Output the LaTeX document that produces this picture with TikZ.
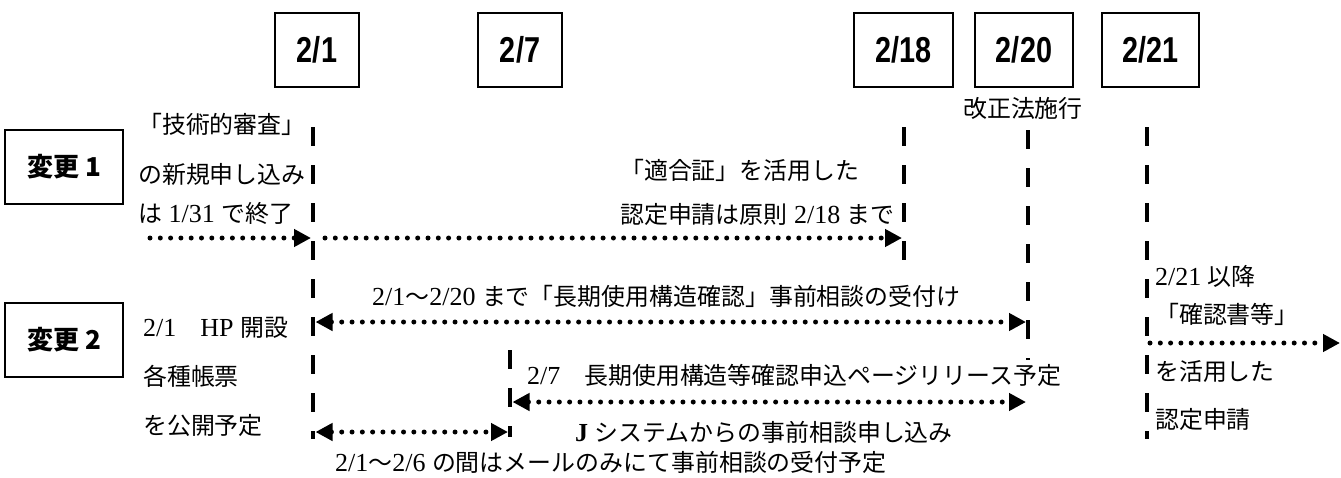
\documentclass[tikz,border=0pt]{standalone}
\usepackage{fontspec}
\setmainfont{Liberation Serif}
\newfontfamily\jpf[Scale=0.92]{Noto Sans CJK JP}
\newfontfamily\jpb{Noto Sans CJK JP}
\newfontfamily\datef[FakeStretch=0.8]{Liberation Sans}
\usetikzlibrary{arrows.meta}
\begin{document}
\begin{tikzpicture}[x=1pt,y=-1pt,
  datebox/.style={draw, line width=1.6pt, minimum height=74pt, inner sep=0pt, font=\datef\bfseries\fontsize{36}{40}\selectfont},
  chbox/.style={draw, line width=1.6pt, minimum width=118pt, minimum height=74pt, inner sep=0pt, font=\jpb\bfseries\fontsize{26}{30}\selectfont},
  txt/.style={anchor=west, inner sep=0pt, font=\fontsize{26}{30}\selectfont},
  vline/.style={line width=4.5pt, dash pattern=on 19pt off 19pt},
  dots/.style={line width=5pt, line cap=round, dash pattern=on 0pt off 10.3pt},
  tipR/.style={-{Triangle[length=17pt,width=17pt]}},
  tipB/.style={{Triangle[length=17pt,width=17pt]}-{Triangle[length=17pt,width=17pt]}}
]
\useasboundingbox (0,0) rectangle (1341,477);

% date boxes
\node[datebox, minimum width=84pt] (d1) at (317,50) {2/1};
\node[datebox, minimum width=84pt] (d7) at (520,50) {2/7};
\node[datebox, minimum width=99pt] (d18) at (903.5,50) {2/18};
\node[datebox, minimum width=98pt] (d20) at (1024,50) {2/20};
\node[datebox, minimum width=97pt] (d21) at (1150.5,50) {2/21};

% change boxes
\node[chbox] (c1) at (64,167) {変更 1};
\node[chbox] (c2) at (64,340) {変更 2};

% vertical dashed time lines
\coordinate (v1t) at (313,127); \coordinate (v1b) at (313,439);
\coordinate (v7t) at (510,350); \coordinate (v7b) at (510,437);
\coordinate (v18t) at (904,127); \coordinate (v18b) at (904,260);
\coordinate (v20t) at (1028,130); \coordinate (v20b) at (1028,360);
\coordinate (v21t) at (1147,127); \coordinate (v21b) at (1147,439);
\draw[vline] (v1t) -- (v1b);
\draw[vline] (v7t) -- (v7b);
\draw[vline] (v18t) -- (v18b);
\draw[vline] (v20t) -- (v20b);
\draw[vline] (v21t) -- (v21b);

% arrows
\coordinate (a1s) at (150,238); \coordinate (a1e) at (311,238);
\coordinate (a2s) at (325,238); \coordinate (a2e) at (902,238);
\coordinate (a3s) at (315.5,322); \coordinate (a3e) at (1026,322);
\coordinate (a4s) at (512.5,402); \coordinate (a4e) at (1026,402);
\coordinate (a5s) at (315.5,432); \coordinate (a5e) at (508,432);
\coordinate (a6s) at (1150,343); \coordinate (a6e) at (1340,343);
\draw[dots, tipR] (a1s) -- (a1e);
\draw[dots, tipR] (a2s) -- (a2e);
\draw[dots, tipB] (a3s) -- (a3e);
\draw[dots, tipB] (a4s) -- (a4e);
\draw[dots, tipB] (a5s) -- (a5e);
\draw[dots, tipR] (a6s) -- (a6e);

% texts
\node[txt] (t1a) at (138,124) {\jpf 「技術的審査」};
\node[txt] (t1b) at (138,174) {\jpf の新規申し込み};
\node[txt] (t1c) at (138,213) {{\jpf は} 1/31 {\jpf で終了}};
\node[txt] (t2a) at (620,170) {\jpf 「適合証」を活用した};
\node[txt] (t2b) at (620,214) {{\jpf 認定申請は原則} 2/18 {\jpf まで}};
\node[inner sep=0pt, font=\jpf\fontsize{26}{30}\selectfont] (kaisei) at (1023,108) {改正法施行};
\node[txt] (t3) at (372,296) {2/1{\jpf 〜}2/20 {\jpf まで「長期使用構造確認」事前相談の受付け}};
\node[txt] (t4) at (527,375) {2/7{\jpf 　長期使用構造等確認申込ページリリース予定}};
\node[txt] (t5) at (575,432) {\textbf{J} {\jpf システムからの事前相談申し込み}};
\node[txt] (t6) at (335,462) {2/1{\jpf 〜}2/6 {\jpf の間はメールのみにて事前相談の受付予定}};
\node[txt] (t7a) at (143,328) {2/1{\jpf 　}HP {\jpf 開設}};
\node[txt] (t7b) at (143,376) {\jpf 各種帳票};
\node[txt] (t7c) at (143,425) {\jpf を公開予定};
\node[txt] (t8a) at (1155,276) {2/21 {\jpf 以降}};
\node[txt] (t8b) at (1155,314) {\jpf 「確認書等」};
\node[txt] (t8c) at (1155,372) {\jpf を活用した};
\node[txt] (t8d) at (1155,419) {\jpf 認定申請};
\end{tikzpicture}
\end{document}
